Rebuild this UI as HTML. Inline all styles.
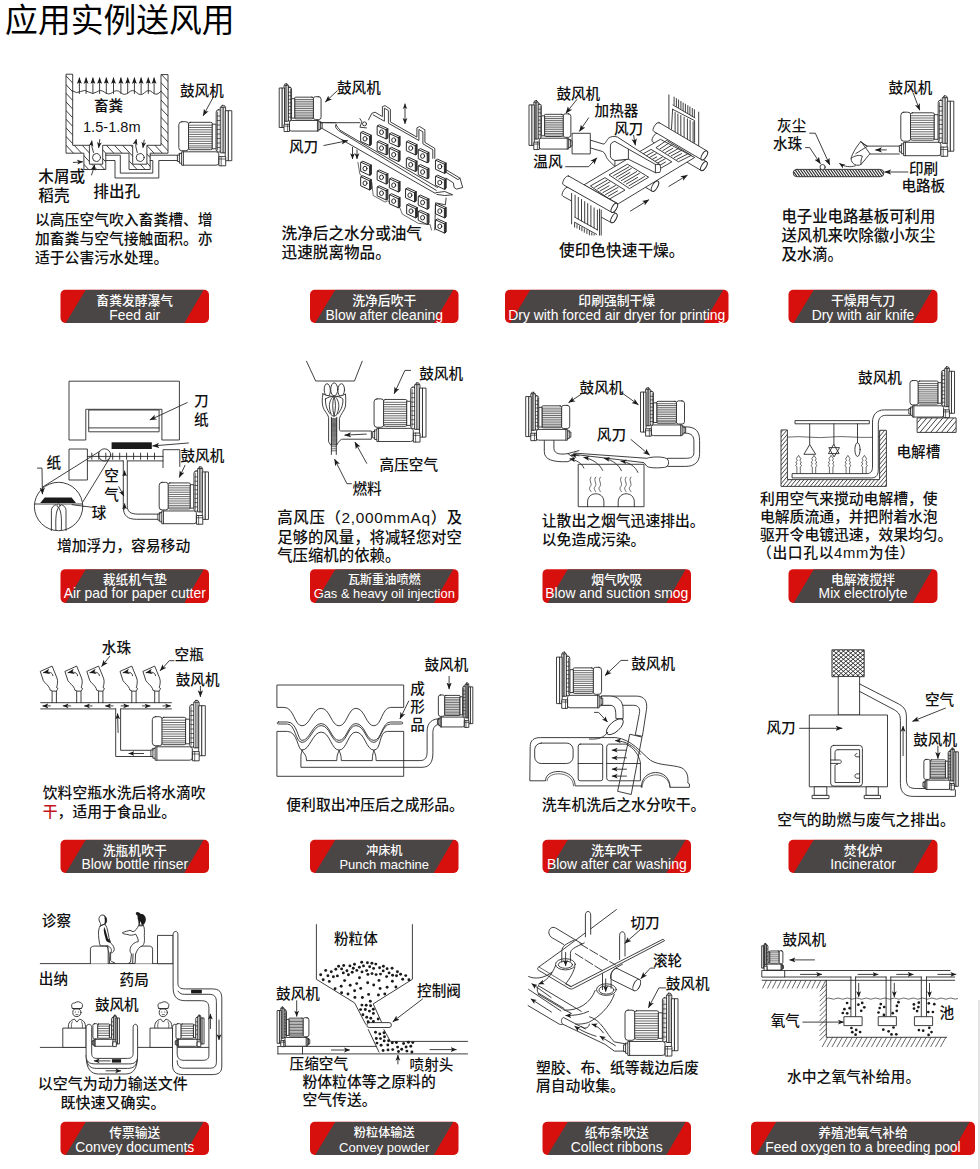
<!DOCTYPE html>
<html lang="zh-CN"><head><meta charset="utf-8"><title>应用实例送风用</title>
<style>
html,body{margin:0;padding:0;background:#fff}
body{width:980px;height:1169px;overflow:hidden;position:relative}
svg{position:absolute;left:0;top:0;display:block}
text{font-family:"Liberation Sans","Noto Sans CJK SC",sans-serif;fill:#111;font-weight:500}
.t{font-size:32.8px;fill:#000;font-weight:400}
.l{font-size:14.6px}
.c{font-size:14.8px}
.bz{font-size:12.6px;fill:#fff;text-anchor:middle;font-weight:500}
.be{font-size:13.9px;fill:#fff;text-anchor:middle;font-weight:400}
.d{fill:none;stroke:#2a2a2a;stroke-width:.9;stroke-linejoin:round;stroke-linecap:round}
.d path,.d rect,.d circle,.d line,.d polyline,.d polygon,.d ellipse{vector-effect:none}
#bl path,#bl rect,#bls path,#bls rect{vector-effect:non-scaling-stroke}
.f{fill:#fff}
.k{fill:#1a1a1a;stroke:none}
.h{stroke-width:.7}
</style></head><body>
<svg width="980" height="1169" viewBox="0 0 980 1169">
<defs>
<marker id="ah" viewBox="0 0 10 10" refX="9" refY="5" markerWidth="7" markerHeight="7" markerUnits="userSpaceOnUse" orient="auto"><path d="M0,1.2 L10,5 L0,8.8 L2.5,5 z" fill="#1a1a1a"/></marker>
<marker id="am" viewBox="0 0 10 10" refX="9" refY="5" markerWidth="6.3" markerHeight="5.4" markerUnits="userSpaceOnUse" orient="auto" preserveAspectRatio="none"><path d="M0,0.5 L10,5 L0,9.5 L2,5 z" fill="#1a1a1a"/></marker>
<marker id="as" viewBox="0 0 10 10" refX="9" refY="5" markerWidth="6" markerHeight="6" markerUnits="userSpaceOnUse" orient="auto"><path d="M0,1 L10,5 L0,9 L2.5,5 z" fill="#1a1a1a"/></marker>
<pattern id="hat" width="6.4" height="6.4" patternUnits="userSpaceOnUse" patternTransform="rotate(45)"><line x1="0" y1="0" x2="6.4" y2="0" stroke="#2a2a2a" stroke-width=".9"/></pattern>
<pattern id="hat2" width="2.6" height="2.6" patternUnits="userSpaceOnUse" patternTransform="rotate(52)"><line x1="0" y1="0" x2="2.6" y2="0" stroke="#222" stroke-width="1.05"/></pattern>
<pattern id="xh" width="4.4" height="4.4" patternUnits="userSpaceOnUse" patternTransform="rotate(45)"><path d="M0,0H4.4M0,0V4.4" stroke="#1a1a1a" stroke-width=".8" fill="none"/></pattern>
<g id="bl" class="d">
 <path class="f" d="M2.4,50 h-2 v6.5 h2 v1.7 h2.2 v2 h34.4 q2.8,0 2.8,-2.2 v-9.2 q0,-2 -2.8,-2 h-34.4 v1.6 h-2.2z"/>
 <path d="M2.4,50v6.5M4.6,48.4v9.8M6.4,46.8v13.4"/>
 <rect class="f" x="1.8" y="16.7" width="10" height="29" rx="3"/>
 <rect class="f" x="11.5" y="17.3" width="24" height="27.4" rx="1.8"/>
 <path class="h" d="M12,20.2h23M12,22.5h23M12,24.8h23M12,27.1h23M12,29.4h23M12,31.7h23M12,34h23M12,36.3h23M12,38.6h23M12,40.9h23M12,42.8h23"/>
 <rect class="f" x="35.5" y="19.2" width="3.7" height="24.6"/>
 <rect class="f" x="39.2" y="4.7" width="5" height="42.3" rx="2.2"/>
 <path class="h" d="M40.6,7v38M40.2,11h3.4M40.2,15.5h3.4M40.2,20h3.4M40.2,24.5h3.4M40.2,29h3.4M40.2,33.5h3.4M40.2,38h3.4M40.2,42.5h3.4"/>
 <rect class="f" x="44.2" y="0.4" width="3.8" height="4" rx="1.3"/>
 <rect class="f" x="43.6" y="2.2" width="5" height="45.6"/>
 <path class="h" d="M45.2,2.2v45.6M46.6,2.2v45.6"/>
 <rect class="f" x="48.6" y="5.7" width="3" height="50"/>
 <rect class="f" x="51.6" y="5.7" width="3.2" height="50"/>
 <rect class="f" x="42.3" y="51.6" width="6.4" height="9.2"/>
 <path class="h" d="M44.2,51.6v9.2M42.3,54h6.4"/>
</g>
<g id="bls" class="d">
 <path class="f" d="M2.4,50 h-2 v6.5 h2 v1.7 h2.2 v2 h34.4 q2.8,0 2.8,-2.2 v-9.2 q0,-2 -2.8,-2 h-34.4 v1.6 h-2.2z"/>
 <path d="M2.4,50v6.5M4.6,48.4v9.8M6.4,46.8v13.4"/>
 <rect class="f" x="1.8" y="16.7" width="10" height="29" rx="3"/>
 <rect class="f" x="11.5" y="17.3" width="24" height="27.4" rx="1.8"/>
 <path class="h" d="M12,21.5h23M12,26h23M12,30.5h23M12,35h23M12,39.5h23"/>
 <rect class="f" x="35.5" y="19.2" width="3.7" height="24.6"/>
 <rect class="f" x="39.2" y="4.7" width="5" height="42.3" rx="2.2"/>
 <path class="h" d="M40.2,13h3.4M40.2,21h3.4M40.2,29h3.4M40.2,37h3.4"/>
 <rect class="f" x="44.2" y="0.4" width="3.8" height="4" rx="1.3"/>
 <rect class="f" x="43.6" y="2.2" width="5" height="45.6"/>
 <path class="h" d="M46,2.2v45.6"/>
 <rect class="f" x="48.6" y="5.7" width="3" height="50"/>
 <rect class="f" x="51.6" y="5.7" width="3.2" height="50"/>
 <rect class="f" x="42.3" y="51.6" width="6.4" height="9.2"/>
 
</g>
<marker id="as0" viewBox="0 0 10 10" refX="1" refY="5" markerWidth="5.5" markerHeight="5.5" markerUnits="userSpaceOnUse" orient="auto"><path d="M10,1 L0,5 L10,9 L7.5,5 z" fill="#1a1a1a"/></marker>
<marker id="ah0" viewBox="0 0 10 10" refX="1" refY="5" markerWidth="7" markerHeight="7" markerUnits="userSpaceOnUse" orient="auto"><path d="M10,1.2 L0,5 L10,8.8 L7.5,5 z" fill="#1a1a1a"/></marker>
<g id="sq" class="d" style="stroke-width:1"><path class="f" d="M0,0 L1.8,-1.1 L10.4,2.8 L10.4,11.9 L8.6,13 L0,9.1z"/><path d="M0,0L8.6,3.9V13M8.6,3.9L10.4,2.8"/><path d="M9.5,3.4V12.4" style="stroke-width:1.5"/><ellipse cx="4" cy="6.3" rx="2" ry="2.3"/></g>
<pattern id="hat3" width="5" height="5" patternUnits="userSpaceOnUse" patternTransform="rotate(-45)"><line x1="0" y1="0" x2="5" y2="0" stroke="#2a2a2a" stroke-width=".8"/></pattern>
<pattern id="hat4" width="2.6" height="2.6" patternUnits="userSpaceOnUse" patternTransform="rotate(-45)"><line x1="0" y1="0" x2="2.6" y2="0" stroke="#2a2a2a" stroke-width=".75"/></pattern>
</defs>
<text x="5.1" y="31.6" class="t">应用实例送风用</text>
<g><clipPath id="c60_289"><rect x="60.5" y="289.8" width="148.5" height="33.1" rx="4.8"/></clipPath><rect x="60.5" y="289.8" width="148.5" height="33.1" rx="4.8" fill="#d7100e"/><polygon clip-path="url(#c60_289)" points="85.8,289.8 203.7,289.8 184.4,322.9 65.7,322.9" fill="#4a4646"/><text x="134.75" y="305.0" class="bz" style="font-size:12.8px">畜粪发酵瀑气</text><text x="134.75" y="319.8" class="be" style="font-size:13.9px">Feed air</text></g>
<g><clipPath id="c310_289"><rect x="310" y="289.8" width="148.5" height="33.1" rx="4.8"/></clipPath><rect x="310" y="289.8" width="148.5" height="33.1" rx="4.8" fill="#d7100e"/><polygon clip-path="url(#c310_289)" points="335.3,289.8 453.2,289.8 433.9,322.9 315.2,322.9" fill="#4a4646"/><text x="384.25" y="305.0" class="bz" style="font-size:12.8px">洗净后吹干</text><text x="384.25" y="319.8" class="be" style="font-size:13.9px">Blow after cleaning</text></g>
<g><clipPath id="c505_289"><rect x="505" y="289.8" width="223.5" height="33.1" rx="4.8"/></clipPath><rect x="505" y="289.8" width="223.5" height="33.1" rx="4.8" fill="#d7100e"/><polygon clip-path="url(#c505_289)" points="530.3,289.8 723.2,289.8 703.9,322.9 510.2,322.9" fill="#4a4646"/><text x="616.75" y="305.0" class="bz" style="font-size:12.8px">印刷强制干燥</text><text x="616.75" y="319.8" class="be" style="font-size:13.9px">Dry with forced air dryer for printing</text></g>
<g><clipPath id="c788_289"><rect x="788.5" y="289.8" width="149.0" height="33.1" rx="4.8"/></clipPath><rect x="788.5" y="289.8" width="149.0" height="33.1" rx="4.8" fill="#d7100e"/><polygon clip-path="url(#c788_289)" points="813.8,289.8 932.2,289.8 912.9,322.9 793.7,322.9" fill="#4a4646"/><text x="863.0" y="305.0" class="bz" style="font-size:12.8px">干燥用气刀</text><text x="863.0" y="319.8" class="be" style="font-size:13.9px">Dry with air knife</text></g>
<g><clipPath id="c60_569"><rect x="60.5" y="569.2" width="148.5" height="33.7" rx="4.8"/></clipPath><rect x="60.5" y="569.2" width="148.5" height="33.7" rx="4.8" fill="#d7100e"/><polygon clip-path="url(#c60_569)" points="85.8,569.2 203.7,569.2 184.4,602.9 65.7,602.9" fill="#4a4646"/><text x="134.75" y="583.6" class="bz" style="font-size:12.8px">裁纸机气垫</text><text x="134.75" y="598.1" class="be" style="font-size:13.9px">Air pad for paper cutter</text></g>
<g><clipPath id="c310_569"><rect x="310" y="569.2" width="148.5" height="33.7" rx="4.8"/></clipPath><rect x="310" y="569.2" width="148.5" height="33.7" rx="4.8" fill="#d7100e"/><polygon clip-path="url(#c310_569)" points="335.3,569.2 453.2,569.2 433.9,602.9 315.2,602.9" fill="#4a4646"/><text x="384.25" y="583.6" class="bz" style="font-size:12.2px">瓦斯重油喷燃</text><text x="384.25" y="598.1" class="be" style="font-size:12.9px">Gas &amp; heavy oil injection</text></g>
<g><clipPath id="c542_569"><rect x="542.5" y="569.2" width="148.5" height="33.7" rx="4.8"/></clipPath><rect x="542.5" y="569.2" width="148.5" height="33.7" rx="4.8" fill="#d7100e"/><polygon clip-path="url(#c542_569)" points="567.8,569.2 685.7,569.2 666.4,602.9 547.7,602.9" fill="#4a4646"/><text x="616.75" y="583.6" class="bz" style="font-size:12.8px">烟气吹吸</text><text x="616.75" y="598.1" class="be" style="font-size:13.9px">Blow and suction smog</text></g>
<g><clipPath id="c788_569"><rect x="788.5" y="569.2" width="149.0" height="33.7" rx="4.8"/></clipPath><rect x="788.5" y="569.2" width="149.0" height="33.7" rx="4.8" fill="#d7100e"/><polygon clip-path="url(#c788_569)" points="813.8,569.2 932.2,569.2 912.9,602.9 793.7,602.9" fill="#4a4646"/><text x="863.0" y="583.6" class="bz" style="font-size:12.8px">电解液搅拌</text><text x="863.0" y="598.1" class="be" style="font-size:13.9px">Mix electrolyte</text></g>
<g><clipPath id="c60_839"><rect x="60.5" y="839.8" width="148.5" height="33.1" rx="4.8"/></clipPath><rect x="60.5" y="839.8" width="148.5" height="33.1" rx="4.8" fill="#d7100e"/><polygon clip-path="url(#c60_839)" points="85.8,839.8 203.7,839.8 184.4,872.9 65.7,872.9" fill="#4a4646"/><text x="134.75" y="854.5" class="bz" style="font-size:12.8px">洗瓶机吹干</text><text x="134.75" y="868.8" class="be" style="font-size:13.9px">Blow bottle rinser</text></g>
<g><clipPath id="c310_839"><rect x="310" y="839.8" width="148.5" height="33.1" rx="4.8"/></clipPath><rect x="310" y="839.8" width="148.5" height="33.1" rx="4.8" fill="#d7100e"/><polygon clip-path="url(#c310_839)" points="335.3,839.8 453.2,839.8 433.9,872.9 315.2,872.9" fill="#4a4646"/><text x="384.25" y="854.5" class="bz" style="font-size:12.2px">冲床机</text><text x="384.25" y="868.8" class="be" style="font-size:13.0px">Punch machine</text></g>
<g><clipPath id="c542_839"><rect x="542.5" y="839.8" width="148.5" height="33.1" rx="4.8"/></clipPath><rect x="542.5" y="839.8" width="148.5" height="33.1" rx="4.8" fill="#d7100e"/><polygon clip-path="url(#c542_839)" points="567.8,839.8 685.7,839.8 666.4,872.9 547.7,872.9" fill="#4a4646"/><text x="616.75" y="854.5" class="bz" style="font-size:12.8px">洗车吹干</text><text x="616.75" y="868.8" class="be" style="font-size:13.9px">Blow after car washing</text></g>
<g><clipPath id="c788_839"><rect x="788.5" y="839.8" width="149.0" height="33.1" rx="4.8"/></clipPath><rect x="788.5" y="839.8" width="149.0" height="33.1" rx="4.8" fill="#d7100e"/><polygon clip-path="url(#c788_839)" points="813.8,839.8 932.2,839.8 912.9,872.9 793.7,872.9" fill="#4a4646"/><text x="863.0" y="854.5" class="bz" style="font-size:12.8px">焚化炉</text><text x="863.0" y="868.8" class="be" style="font-size:13.9px">Incinerator</text></g>
<g><clipPath id="c60_1121"><rect x="60.5" y="1121.8" width="148.5" height="33.1" rx="4.8"/></clipPath><rect x="60.5" y="1121.8" width="148.5" height="33.1" rx="4.8" fill="#d7100e"/><polygon clip-path="url(#c60_1121)" points="85.8,1121.8 203.7,1121.8 184.4,1154.9 65.7,1154.9" fill="#4a4646"/><text x="134.75" y="1137.0" class="bz" style="font-size:12.8px">传票输送</text><text x="134.75" y="1151.6" class="be" style="font-size:13.9px">Convey documents</text></g>
<g><clipPath id="c310_1121"><rect x="310" y="1121.8" width="148.5" height="33.1" rx="4.8"/></clipPath><rect x="310" y="1121.8" width="148.5" height="33.1" rx="4.8" fill="#d7100e"/><polygon clip-path="url(#c310_1121)" points="335.3,1121.8 453.2,1121.8 433.9,1154.9 315.2,1154.9" fill="#4a4646"/><text x="384.25" y="1137.0" class="bz" style="font-size:12.2px">粉粒体输送</text><text x="384.25" y="1151.6" class="be" style="font-size:13.0px">Convey powder</text></g>
<g><clipPath id="c542_1121"><rect x="542.5" y="1121.8" width="148.5" height="33.1" rx="4.8"/></clipPath><rect x="542.5" y="1121.8" width="148.5" height="33.1" rx="4.8" fill="#d7100e"/><polygon clip-path="url(#c542_1121)" points="567.8,1121.8 685.7,1121.8 666.4,1154.9 547.7,1154.9" fill="#4a4646"/><text x="616.75" y="1137.0" class="bz" style="font-size:12.8px">纸布条吹送</text><text x="616.75" y="1151.6" class="be" style="font-size:13.9px">Collect ribbons</text></g>
<g><clipPath id="c751_1121"><rect x="751" y="1121.8" width="224" height="33.1" rx="4.8"/></clipPath><rect x="751" y="1121.8" width="224" height="33.1" rx="4.8" fill="#d7100e"/><polygon clip-path="url(#c751_1121)" points="776.3,1121.8 969.7,1121.8 950.4,1154.9 756.2,1154.9" fill="#4a4646"/><text x="863.0" y="1137.0" class="bz" style="font-size:12.8px">养殖池氧气补给</text><text x="863.0" y="1151.6" class="be" style="font-size:13.9px">Feed oxygen to a breeding pool</text></g>
<!-- 01_feedair.svg -->
<g class="d">
 <clipPath id="ha1"><path d="M66,74.6V153.2H83.9V169.5H105.8V153.2H129V169.5H150.2V153.2H168V74.6H161V145.3H146.9V164.2H132.7V145.3H102.7V164.2H89.4V145.3H72.7V74.6Z"/></clipPath><path clip-path="url(#ha1)" d="M124.0,17.0L222.2,122.4M119.7,21.0L217.9,126.4M115.3,25.1L213.6,130.4M111.0,29.1L209.3,134.4M106.7,33.1L205.0,138.5M102.4,37.1L200.6,142.5M98.1,41.1L196.3,146.5M93.8,45.2L192.0,150.5M89.4,49.2L187.7,154.6M85.1,53.2L183.4,158.6M80.8,57.2L179.1,162.6M76.5,61.3L174.8,166.6M72.2,65.3L170.4,170.7M67.9,69.3L166.1,174.7M63.6,73.3L161.8,178.7M59.2,77.4L157.5,182.7M54.9,81.4L153.2,186.8M50.6,85.4L148.9,190.8M46.3,89.4L144.6,194.8M42.0,93.5L140.2,198.8M37.7,97.5L135.9,202.9M33.4,101.5L131.6,206.9M29.0,105.5L127.3,210.9M24.7,109.6L123.0,214.9M20.4,113.6L118.7,218.9M16.1,117.6L114.3,223.0" style="stroke:#2a2a2a;stroke-width:0.9;fill:none"/><path d="M66,74.6V153.2H83.9V169.5H105.8V153.2H129V169.5H150.2V153.2H168V74.6H161V145.3H146.9V164.2H132.7V145.3H102.7V164.2H89.4V145.3H72.7V74.6Z"/>
 <path d="M72.7,91 q4,3 8,0.5 t8,0.5 t8,0 t8,0.3 t8,0 t8,0.3 t8,-0.2 t8,0.2 t8,0 t8,0 t8.3,-1.5"/>
 <path d="M79.4,93.5V78" marker-end="url(#am)"/><path d="M86.1,93.5V78" marker-end="url(#am)"/><path d="M92.9,93.5V78" marker-end="url(#am)"/><path d="M99.6,93.5V78" marker-end="url(#am)"/><path d="M106.3,93.5V78" marker-end="url(#am)"/><path d="M113.5,93.5V78" marker-end="url(#am)"/><path d="M120.9,93.5V78" marker-end="url(#am)"/><path d="M127.7,93.5V78" marker-end="url(#am)"/><path d="M134.4,93.5V78" marker-end="url(#am)"/><path d="M141.1,93.5V78" marker-end="url(#am)"/><path d="M148.3,93.5V78" marker-end="url(#am)"/><path d="M154.1,93.5V78" marker-end="url(#am)"/>
 <circle class="f" cx="96.5" cy="157.5" r="4"/><circle class="f" cx="140.2" cy="157.5" r="4"/>
 <path d="M93.5,152.5 q-2.5,-6 -1.7,-11.5" marker-end="url(#as)"/><path d="M99.8,139.5 L98.7,147.5" marker-end="url(#as)"/>
 <path d="M137.2,152.5 q-2.5,-6 -1,-13" marker-end="url(#as)"/><path d="M144.2,140 L143,147.5" marker-end="url(#as)"/>
 <path d="M150.2,155.2H177.4M150.2,160.5H152.8V173.1H120.3V155.2H105.8M105.8,160.5H115V178H158.8V160.5H177.4"/>
 <path d="M73.3,162.5L82.5,161.8" marker-end="url(#as)"/><path d="M91.6,175L94.7,165" marker-end="url(#as)"/>
 <path d="M213.6,96.5L203.3,115.5" marker-end="url(#ah)"/>
 <use href="#bl" x="177" y="105"/>
</g>
<text class="l" x="180" y="95.5">鼓风机</text>
<text class="l" x="94" y="111">畜粪</text>
<text class="l" x="83" y="131.5">1.5-1.8m</text>
<text class="l" x="38.3" y="182" style="font-size:15.6px">木屑或</text>
<text class="l" x="38.3" y="201" style="font-size:15.6px">稻壳</text>
<text class="l" x="93.3" y="196.5" style="font-size:15.6px">排出孔</text>
<text class="c" x="35" y="224.7">以高压空气吹入畜粪槽、增</text>
<text class="c" x="35" y="243.7">加畜粪与空气接触面积。亦</text>
<text class="c" x="35" y="262.7">适于公害污水处理。</text>

<!-- 02_blowclean.svg -->
<g class="d">
<path d="M368.5,119.9 L371.8,113.3 L375.1,112.2 L382.4,116.6 L382.4,106.6 L385.1,105.6 L390.4,109.3 L390.4,121.9 L416.9,137.1 L416.9,127.9 L419.6,126.5 L424.9,129.8 L424.9,142.4 L434.8,148.4 L434.8,158.4"/><path d="M373.2,114.9 L384.4,121.2 L384.4,108.2 L388.4,110.6 L388.4,123.2 L418.9,140.5 L418.9,129.4 L422.9,131.8 L422.9,143.8 L432.8,149.7 L432.8,158.4"/><path d="M444.8,169.0 L460.0,178.2 L462.7,187.5 L456.7,189.1 L454.1,187.5 L453.4,182.9 L446.1,178.2"/><path d="M446.1,172.3 L458.0,179.6 L460.0,178.2"/><path class="h" d="M357.9,162.3 L359.9,174.3 L371.8,182.2 L373.2,195.5 L385.1,202.1 L387.7,200.8 L399.7,207.4 L402.3,214.1 L418.2,223.3 L430.2,224.7 L431.5,230.0"/>
<path d="M359.9,118.6 L361.9,121.9 L359.9,127.2 L366.5,127.9"/><circle cx="364.5" cy="123.9" r="2"/><path d="M434.8,192.8 L444.8,191.5 L452.7,194.8 L444.8,195.5 L436.8,194.4"/><path d="M446.1,198.1 L445.4,204.8 L435.5,202.8 L434.8,230.0"/><use href="#sq" x="361" y="132.5"/><use href="#sq" x="377.5" y="125.9"/><use href="#sq" x="377.5" y="141.8"/><use href="#sq" x="389.7" y="133.8"/><use href="#sq" x="389.7" y="148.4"/><use href="#sq" x="406.7" y="141.8"/><use href="#sq" x="406.7" y="158.4"/><use href="#sq" x="418.6" y="149.7"/><use href="#sq" x="418.6" y="165.7"/><use href="#sq" x="435.8" y="160.3"/><use href="#sq" x="435.8" y="176.3"/><use href="#sq" x="361" y="162.3"/><use href="#sq" x="361" y="176.9"/><use href="#sq" x="377.5" y="171"/><use href="#sq" x="377.5" y="186.9"/><use href="#sq" x="389.7" y="178.9"/><use href="#sq" x="389.7" y="194.8"/><use href="#sq" x="405.9" y="188.9"/><use href="#sq" x="407" y="204.8"/><use href="#sq" x="418.6" y="196.2"/><use href="#sq" x="418.6" y="211.4"/><use href="#sq" x="435.8" y="204.8"/><use href="#sq" x="435.8" y="220"/>
 <path d="M321,122.7H359.8"/>
 <path class="f" d="M321,127.8L435,193.2 L437.5,187.5 L340,130.2 Q337.5,127 336,124.8 L321,122.7Z" stroke="none"/>
 <path d="M321,127.8L435,193.2"/>
 <path d="M336,124.6 Q337.5,127.5 340,130.2 L437.5,187.5 M336,124.6 Q334,127 338.5,130.6 L436.3,190.4"/>
 <path d="M321,122.7H336"/>
 <path d="M337.3,90.7L325.6,101.7" marker-end="url(#ah)"/>
 <path d="M323.9,145.5L347.5,140.7" marker-end="url(#ah)"/>
 <path d="M352.5,147.4V158.6" marker-end="url(#as)"/><path d="M357,150V158.6" marker-end="url(#as)"/>
 <path d="M405,104V123.5" marker-end="url(#as)" marker-start="url(#as0)"/>
 <use href="#bl" transform="translate(322.5,83.5) scale(-.79,.79)"/>
</g>
<text class="l" x="337" y="93">鼓风机</text>
<text class="l" x="289" y="152">风刀</text>
<text class="c" x="281.6" y="239" style="font-size:15.6px">洗净后之水分或油气</text>
<text class="c" x="281.6" y="257.5" style="font-size:15.6px">迅速脱离物品。</text>

<!-- 03_print.svg -->
<g class="d">
<path d="M668.9,94.9V128.4M698.7,112.1V146.4"/><path d="M674.1,97.1V104.8"/><path d="M676.4,98.6V106.3"/><path d="M678.6,99.9V107.6"/><path d="M680.9,101.4V109.1"/><path d="M683.1,102.9V110.6"/><path d="M685.4,104.1V111.9"/><path d="M687.8,105.6V113.4"/><path d="M689.9,106.9V114.6"/><path d="M692.3,108.4V116.1"/><path d="M694.4,109.7V117.4"/><path d="M673.0,105.0L694.9,117.9M672.6,109.3L694.6,120.6V142.3M672.6,109.3L671.5,129.2"/><path d="M675.1,112.5V146.8"/><path d="M677.9,114.0V146.8"/><path d="M680.8,115.5V146.8"/><path d="M684.1,117.2V146.8"/><path d="M687.4,118.9V146.8"/><path d="M690.1,120.2V146.8"/><path d="M693.1,121.9V146.8"/><path class="f" d="M658.0,133.1 L706.5,161.6 A2.3,5.1 30.5 0 1 701.2,170.5 L652.8,142.0 A2.3,5.1 30.5 0 1 658.0,133.1Z"/><ellipse class="f" cx="703.9" cy="166.1" rx="2.3" ry="5.1" transform="rotate(30.5 703.9 166.1)"/><path class="f" d="M642.9,172.4 L657.9,181.2 A2.6,5.8 30.4 0 1 652.1,191.2 L637.1,182.4 A2.6,5.8 30.4 0 1 642.9,172.4Z"/><ellipse class="f" cx="655.0" cy="186.2" rx="2.6" ry="5.8" transform="rotate(30.4 655.0 186.2)"/><path class="f" d="M584.3,184.7L660.4,139.3L694.6,157.5L618.6,203.6Z"/><path d="M590.7,186.2L609.4,199.1L625.0,190.1L605.3,177.9Z"/><path d="M594.8,187.3L607.0,180.2"/><path d="M597.6,189.0L609.8,181.9"/><path d="M600.1,190.9L609.1,185.8"/><path d="M602.9,192.6L615.4,185.6"/><path d="M605.5,194.6L618.1,187.3"/><path d="M608.3,196.3L617.5,190.9"/><path d="M609.4,175.1L629.5,188.6L648.6,177.2L627.8,164.4Z"/><path d="M613.6,175.7L628.9,166.9"/><path d="M616.2,177.4L631.4,168.4"/><path d="M618.8,179.1L629.9,172.5"/><path d="M621.4,180.6L636.6,171.6"/><path d="M623.9,182.4L639.4,173.4"/><path d="M626.3,184.1L637.6,177.4"/><path d="M628.9,185.8L644.5,176.6"/><path d="M640.0,156.0L660.4,168.4L671.9,161.8L651.4,149.6Z"/><path d="M644.1,157.1L653.3,151.9"/><path d="M646.9,159.0L656.3,153.6"/><path d="M649.9,160.7L656.7,156.9"/><path d="M652.9,162.4L662.3,157.1"/><path d="M655.6,164.1L665.1,158.8"/><path d="M658.6,166.1L665.5,162.0"/><path d="M656.3,147.9L678.4,161.8L691.4,155.4L667.0,140.6Z"/><path d="M660.1,148.9L669.1,142.9"/><path d="M662.9,150.6L672.1,144.9"/><path d="M665.7,152.4L672.8,148.3"/><path d="M668.5,154.1L678.4,148.5"/><path d="M671.3,155.8L681.4,150.4"/><path d="M674.1,157.7L681.6,153.6"/><path d="M676.9,159.4L687.4,154.1"/><path class="f" d="M659.1,122.6 L706.9,150.9 A2.3,5.1 30.6 0 1 701.7,159.8 L653.9,131.5 A2.3,5.1 30.6 0 1 659.1,122.6Z"/><ellipse class="f" cx="704.3" cy="155.4" rx="2.3" ry="5.1" transform="rotate(30.6 704.3 155.4)"/><path class="f" d="M567.9,187.3 L616.3,213.6 A2.3,5.1 28.6 0 1 611.4,222.7 L563.0,196.3 A2.3,5.1 28.6 0 1 567.9,187.3Z"/><ellipse class="f" cx="613.9" cy="218.1" rx="2.3" ry="5.1" transform="rotate(28.6 613.9 218.1)"/><path class="f" d="M571.6,190.7L600.4,206.1L601.2,206.1L601.2,235.1L571.6,235.1Z" stroke="none"/><path d="M571.6,193.3V223.9M599.5,209.1V235.1M601.2,210.0V235.1"/><path d="M575.1,195.2V217.3"/><path d="M578.3,197.4V219.2"/><path d="M581.5,199.5V220.9"/><path d="M584.7,201.6V222.9"/><path d="M587.7,203.6V224.4"/><path d="M590.9,205.7V226.3"/><path d="M594.1,207.9V228.0"/><path d="M597.4,210.0V229.9"/><path d="M575.0,217.3L597.4,229.9M574.6,227.1V222.2L596.6,234.4"/><path d="M577.0,224.6V228.0"/><path d="M579.6,226.1V229.5"/><path d="M581.9,227.4V230.8"/><path d="M584.3,228.9V232.3"/><path d="M586.9,230.1V233.6"/><path d="M589.4,231.4V234.9"/><path d="M591.8,232.9V235.1"/><path d="M594.1,234.2V235.1"/><path class="f" d="M568.6,176.0 L616.8,203.4 A2.3,5.1 29.6 0 1 611.7,212.3 L563.5,184.9 A2.3,5.1 29.6 0 1 568.6,176.0Z"/><ellipse class="f" cx="614.3" cy="207.9" rx="2.3" ry="5.1" transform="rotate(29.6 614.3 207.9)"/><path class="f" d="M590.3,140.1L603.1,144.0C605.7,144.4 606.8,139.3 608.9,138.0C611.1,136.3 614.3,135.9 617.5,137.1L659.7,164.4C661.0,167.1 661.0,170.4 659.7,172.5L655.4,172.7L628.4,159.2L614.9,160.5L614.9,166.5L607.9,159.6C605.7,157.5 605.7,152.6 602.5,151.5L590.3,147.9Z"/><path class="f" d="M610.4,145.7C610.4,143.1 612.6,141.9 614.9,141.4L628.4,149.1L628.4,159.2L614.9,160.5C612.1,159.6 610.4,158.1 610.4,156.0Z"/><path d="M628.4,149.1L655.4,164.4L655.4,172.7M655.4,164.4L659.7,164.4"/><rect class="f" x="572.5" y="133.3" width="17.8" height="20.6"/><path d="M576.8,99.6L566.1,112.9" marker-end="url(#ah)"/><path d="M588.6,117.9L579.6,131.1" marker-end="url(#ah)"/><path d="M633.6,135.4L635.3,144.9" marker-end="url(#ah)"/><path d="M565.6,166.7L588.6,166.7L596.7,158.1" marker-end="url(#ah)"/><path d="M630.4,211.1L648.6,199.9" marker-end="url(#ah)"/><path d="M668.9,186.4L687.1,175.3" marker-end="url(#ah)"/><use href="#bl" transform="translate(572.3,100.3) scale(-.79,.81)"/>
</g>
<text class="l" x="556.4" y="99.2">鼓风机</text><text class="l" x="594.6" y="116.1">加热器</text><text class="l" x="613.9" y="133.7">风刀</text><text class="l" x="533.3" y="166.7">温风</text><text class="c" x="559" y="256" style="font-size:15.7px">使印色快速干燥。</text>

<!-- 04_knife.svg -->
<g class="d">
<clipPath id="hb1"><path d="M796.9,169.4H880.2A3.6,3.6 0 0 1 880.2,176.7H796.9A3.6,3.6 0 0 1 796.9,169.4Z"/></clipPath><path clip-path="url(#hb1)" d="M851.9,105.8L906.3,183.6M850.0,107.1L904.5,184.9M848.2,108.4L902.6,186.1M846.3,109.7L900.8,187.4M844.5,111.0L898.9,188.7M842.6,112.2L897.1,190.0M840.8,113.5L895.3,191.3M839.0,114.8L893.4,192.6M837.1,116.1L891.6,193.9M835.3,117.4L889.7,195.2M833.4,118.7L887.9,196.5M831.6,120.0L886.0,197.8M829.7,121.3L884.2,199.0M827.9,122.6L882.3,200.3M826.1,123.9L880.5,201.6M824.2,125.2L878.7,202.9M822.4,126.4L876.8,204.2M820.5,127.7L875.0,205.5M818.7,129.0L873.1,206.8M816.8,130.3L871.3,208.1M815.0,131.6L869.4,209.4M813.2,132.9L867.6,210.7M811.3,134.2L865.8,212.0M809.5,135.5L863.9,213.2M807.6,136.8L862.1,214.5M805.8,138.1L860.2,215.8M803.9,139.3L858.4,217.1M802.1,140.6L856.5,218.4M800.3,141.9L854.7,219.7M798.4,143.2L852.9,221.0M796.6,144.5L851.0,222.3M794.7,145.8L849.2,223.6M792.9,147.1L847.3,224.9M791.0,148.4L845.5,226.1M789.2,149.7L843.6,227.4M787.3,151.0L841.8,228.7M785.5,152.3L840.0,230.0M783.7,153.5L838.1,231.3M781.8,154.8L836.3,232.6M780.0,156.1L834.4,233.9M778.1,157.4L832.6,235.2M776.3,158.7L830.7,236.5M774.4,160.0L828.9,237.8M772.6,161.3L827.1,239.1" style="stroke:#222;stroke-width:1.05;fill:none"/><path d="M796.9,169.4H880.2A3.6,3.6 0 0 1 880.2,176.7H796.9A3.6,3.6 0 0 1 796.9,169.4Z"/><circle class="f" cx="822.6" cy="167.1" r="2.6"/><path stroke="#fff" stroke-width="0" d="M793.2,172.9L883.9,172.9"/><path d="M899.3,146.1L867.1,146.1L860.7,141.8M899.3,154.0L869.7,154.0"/><path class="f" d="M860.7,141.8C857.5,145.0 852.1,153.6 851.1,158.3C851.1,164.3 857.5,166.9 861.1,164.3C865.0,160.0 868.2,155.7 869.7,154.0Z"/><path d="M860.7,141.8C862.9,143.9 865.4,145.0 867.1,146.1M851.1,158.3C854.3,155.7 859.0,154.6 862.4,156.1C860.7,160.0 860.7,162.6 861.1,164.3M855.8,153.6L867.1,146.5"/><path d="M886.4,149.9L875.7,149.9" marker-end="url(#ah)"/><path d="M855.4,165.8C850.0,167.5 844.6,166.9 839.7,163.6" marker-end="url(#as)"/><path d="M913.2,93.1L919.6,109.9" marker-end="url(#ah)"/><path d="M809.7,133.2L815.3,133.2L829.6,164.5" marker-end="url(#ah)"/><path d="M805.6,147.6L809.7,147.6L820.2,163.4" marker-end="url(#ah)"/><path d="M907.9,172.0L884.9,172.0" marker-end="url(#ah)"/><use href="#bl" x="899" y="95.5"/>
</g>
<text class="l" x="888.6" y="93.1">鼓风机</text><text class="l" x="777.1" y="131.3">灰尘</text><text class="l" x="772.9" y="148.9">水珠</text><text class="l" x="908.9" y="173.9">印刷</text><text class="l" x="901.4" y="191.1">电路板</text><text class="c" x="781.4" y="221.7" style="font-size:15.4px">电子业电路基板可利用</text><text class="c" x="781.4" y="240.7" style="font-size:15.4px">送风机来吹除徽小灰尘</text>
<text class="c" x="781.4" y="259.7" style="font-size:15.4px">及水滴。</text>

<!-- 05_cutter.svg -->
<g class="d">
<path class="f" d="M69.4,381.2H179.4V440.0H161.9V409.3H85.8V440.0H69.4Z"/><rect class="f" x="89.1" y="410.0" width="70.0" height="21.8"/><path d="M89.1,427.9H159.2"/><rect class="k" x="111.6" y="442.3" width="40.2" height="6.7"/><rect class="f" x="69.4" y="449.0" width="18.0" height="31.0"/><path d="M163.0,467.7V449.7H179.8V466.5"/><path d="M87.3,456.4H163.0M87.3,460.9H123.3M127.3,460.9H163.0"/><path d="M91.8,453.1V459.3"/><path d="M98.8,453.1V459.3"/><path d="M105.8,453.1V459.3"/><path d="M112.7,453.1V459.3"/><path d="M119.7,453.1V459.3"/><path d="M126.6,453.1V459.3"/><path d="M133.6,453.1V459.3"/><path d="M140.6,453.1V459.3"/><path d="M147.5,453.1V459.3"/><path d="M154.5,453.1V459.3"/><path d="M99.7,451.3L42.4,487.2M109.3,458.7L81.1,504.7"/><circle cx="104.6" cy="454.9" r="6.1"/><circle class="f" cx="58.6" cy="506.5" r="24.2"/><path d="M34.8,504.0H82.4"/><path class="k" d="M40.2,502.9L44.7,497.5L71.6,497.5L76.1,502.9Z"/><path d="M51.4,530.5V510.3C51.4,507.4 53.7,505.4 55.9,504.7M66.0,530.5V510.3C66.0,507.4 63.8,505.4 61.5,504.7M55.9,529.8C55.5,518.2 55.9,511.4 58.6,507.4C61.3,511.4 61.8,518.2 61.3,529.8"/><circle class="f" cx="58.6" cy="505.6" r="1.6"/><path d="M72.1,504.7L93.0,507.4"/><path d="M123.3,460.9V506.9C123.3,515.9 127.8,519.3 136.7,519.3H160.3M127.3,460.9V505.8C127.3,511.4 130.0,514.1 137.9,514.1H160.3"/><path d="M124.6,475.5V471.0" marker-end="url(#as)"/><path d="M118.8,486.7L123.7,495.7" marker-end="url(#as)"/><path d="M124.6,509.2V503.8" marker-end="url(#as)"/><path d="M187.2,402.6L150.2,419.8" marker-end="url(#ah)"/><path d="M188.4,443.0L152.9,445.9" marker-end="url(#ah)"/><path d="M185.0,465.4L179.4,477.1" marker-end="url(#ah)"/><path d="M37.5,468.1L42.0,468.1L42.0,468.8L42.4,493.9" marker-end="url(#ah)"/><use href="#bl" transform="translate(157.5,466.5) scale(.93,.95)"/>
</g>
<text class="l" x="194.0" y="406.4">刀</text><text class="l" x="194.0" y="425.4">纸</text><text class="l" x="180.5" y="460.9">鼓风机</text><text class="l" x="46.5" y="468.1">纸</text><text class="l" x="104.2" y="480.5">空</text><text class="l" x="104.2" y="499.5">气</text><text class="l" x="91.8" y="518.2">球</text><text class="c" x="57" y="551">增加浮力，容易移动</text>

<!-- 06_gas.svg -->
<g class="d">
<path d="M306.5,361.2L315.7,381.0L354.5,381.0L362.2,361.2"/><ellipse class="f" cx="327.3" cy="390.0" rx="3.1" ry="6.3" transform="rotate(-3 327.3 390.0)"/><ellipse class="f" cx="341.2" cy="390.0" rx="3.3" ry="6.3" transform="rotate(3 341.2 390.0)"/><ellipse class="f" cx="334.2" cy="389.4" rx="3.5" ry="6.5"/><path class="f" d="M322.9,393.9C322.0,399.0 322.0,403.5 322.9,406.7C324.1,411.2 327.8,413.7 328.6,417.3L328.6,441.8L330.6,444.9L336.7,444.9C338.0,442.9 338.8,441.8 339.6,441.0C340.4,439.8 341.2,439.2 342.4,439.2L371.4,439.2L371.4,431.0L341.2,431.0C339.8,431.0 339.4,430.4 339.4,429.2L339.4,418.4C340.4,414.3 344.9,410.4 345.5,406.1C345.9,402.0 345.9,398.0 345.5,393.9C341.2,397.3 329.0,397.3 322.9,393.9Z"/><path class="f" d="M325.5,399.0C324.9,408.2 330.0,415.3 333.9,416.3C338.0,415.3 343.5,408.2 342.9,399.0C339.2,395.3 330.0,395.3 325.5,399.0Z"/><path d="M334.1,415.7C332.2,409.2 332.2,402.0 334.1,396.5C335.9,402.0 335.9,409.2 334.1,415.7M331.0,413.7C328.2,407.1 329.0,401.0 332.7,396.9M337.1,413.7C340.0,407.1 339.2,401.0 335.5,396.9"/><path d="M331.4,417.3V444.9M336.7,417.3V444.9M331.4,444.9V454.5M336.3,444.9V454.5"/><path class="h" d="M331.4,418.4H336.7"/><path class="h" d="M331.4,419.4H336.7"/><path class="h" d="M331.4,420.4H336.7"/><path class="h" d="M331.4,421.4H336.7"/><path class="h" d="M331.4,422.4H336.7"/><path class="h" d="M331.4,423.5H336.7"/><path class="h" d="M331.4,424.5H336.7"/><path class="h" d="M331.4,425.5H336.7"/><path class="h" d="M331.4,426.5H336.7"/><path class="h" d="M331.4,427.6H336.7"/><path class="h" d="M331.4,428.6H336.7"/><path class="h" d="M331.4,429.6H336.7"/><path class="h" d="M331.4,430.6H336.7"/><path class="h" d="M331.4,431.6H336.7"/><path class="h" d="M331.4,432.7H336.7"/><path class="h" d="M331.4,433.7H336.7"/><path class="h" d="M331.4,434.7H336.7"/><path class="h" d="M331.4,435.7H336.7"/><path class="h" d="M331.4,436.7H336.7"/><path class="h" d="M331.4,437.8H336.7"/><path class="h" d="M331.4,438.8H336.7"/><path class="h" d="M331.4,439.8H336.7"/><path class="h" d="M331.4,440.8H336.7"/><path class="h" d="M331.4,441.8H336.7"/><path class="h" d="M331.4,442.9H336.7"/><path class="h" d="M331.4,443.9H336.7"/><path class="h" d="M331.4,446.7H336.3"/><path class="h" d="M331.4,448.8H336.3"/><path class="h" d="M331.4,450.8H336.3"/><path d="M366.3,434.1L344.9,435.1" marker-end="url(#ah)"/><path d="M410.6,370.4L404.9,370.4L394.3,393.3" marker-end="url(#ah)"/><path d="M366.7,463.3L355.1,442.4" marker-end="url(#ah)"/><path d="M351.4,483.7L346.9,483.7L334.7,459.4" marker-end="url(#ah)"/><use href="#bl" transform="translate(372.3,382.5) scale(.98,.98)"/>
</g>
<text class="l" x="419.2" y="379.4">鼓风机</text><text class="l" x="379.6" y="470.0">高压空气</text><text class="l" x="352.4" y="494.1">燃料</text><text class="c" x="277.2" y="523.2" style="font-size:15.4px" textLength="185" lengthAdjust="spacing">高风压（2,000mmAq）及</text>
<text class="c" x="277.2" y="542.6" style="font-size:15.4px">足够的风量，将减轻您对空</text>
<text class="c" x="277.2" y="560.6" style="font-size:15.4px">气压缩机的依赖。</text>

<!-- 07_smog.svg -->
<g class="d">
<rect class="f" x="578.6" y="464.3" width="65.4" height="42.4"/><path d="M587.6,506.7V501.8C587.6,491.1 603.9,491.1 603.9,501.8V506.7M618.2,506.7V501.8C618.2,491.1 634.3,491.1 634.3,501.8V506.7"/><path class="h" d="M591.0,477.1C588.0,480.4 593.1,483.6 590.1,486.8C588.4,488.9 590.6,490.4 591.0,491.7"/><path class="h" d="M595.7,477.1C592.7,480.4 597.9,483.6 594.9,486.8C593.1,488.9 595.3,490.4 595.7,491.7"/><path class="h" d="M600.4,477.1C597.4,480.4 602.6,483.6 599.6,486.8C597.9,488.9 600.0,490.4 600.4,491.7"/><path class="h" d="M621.4,477.1C618.4,480.4 623.6,483.6 620.6,486.8C618.9,488.9 621.0,490.4 621.4,491.7"/><path class="h" d="M626.1,477.1C623.1,480.4 628.3,483.6 625.3,486.8C623.6,488.9 625.7,490.4 626.1,491.7"/><path class="h" d="M630.9,477.1C627.9,480.4 633.0,483.6 630.0,486.8C628.3,488.9 630.4,490.4 630.9,491.7"/><path class="f" d="M544.3,439.6V451.4C544.3,460.0 552.9,462.1 567.9,461.7L574.3,458.3L567.9,453.6C561.4,454.6 553.9,454.6 553.9,448.2V439.6Z"/><path d="M567.9,453.6L579.0,450.6"/><path class="f" d="M685.7,426.8C696.4,426.8 699.6,432.1 699.6,440.7V453.6C699.6,462.1 694.3,466.4 685.7,466.4H667.5V458.3H685.7C691.1,458.3 693.9,456.8 693.9,452.5V441.8C693.9,436.4 692.1,433.2 685.7,433.2Z"/><path class="f" d="M574.3,453.1L647.1,458.3C649.3,456.8 666.4,455.7 668.1,460.0C669.6,464.3 667.5,467.5 663.2,467.5C657.9,468.1 649.3,468.1 647.1,466.4L643.9,462.6L574.3,454.4Z"/><path d="M583.9,468.1C581.8,463.2 576.4,460.0 570.0,458.9" marker-end="url(#as)"/><path d="M602.6,470.3C600.0,464.3 592.5,458.9 583.9,457.4" marker-end="url(#as)"/><path d="M621.4,470.7C619.3,465.4 612.9,460.0 604.3,458.3" marker-end="url(#as)"/><path d="M637.9,472.4C635.4,466.4 628.9,462.1 621.0,461.1" marker-end="url(#as)"/><path d="M579.0,455.7L571.3,455.1" marker-end="url(#as)"/><path d="M580.7,394.6L568.9,402.4" marker-end="url(#ah)"/><path d="M621.4,392.5L638.1,404.5" marker-end="url(#ah)"/><path d="M631.1,439.6L649.3,454.9" marker-end="url(#ah)"/><use href="#bl" transform="translate(571.2,392) scale(-.83,.8)"/><use href="#bl" transform="translate(686,387.5) scale(-.83,.8)"/>
</g>
<text class="l" x="579.6" y="392.7">鼓风机</text><text class="l" x="596.8" y="440.3">风刀</text><text class="c" x="541.8" y="526">让散出之烟气迅速排出。</text>
<text class="c" x="541.8" y="545">以免造成污染。</text>

<!-- 08_electro.svg -->
<g class="d">
<clipPath id="hc1"><path d="M917.5,417.9H956.1V432.4H917.5Z"/></clipPath><path clip-path="url(#hc1)" d="M903.4,426.7L932.5,392.0M906.5,429.3L935.6,394.6M909.7,431.9L938.8,397.3M912.8,434.6L941.9,399.9M916.0,437.2L945.0,402.5M919.1,439.8L948.2,405.2M922.2,442.5L951.3,407.8M925.4,445.1L954.5,410.5M928.5,447.7L957.6,413.1M931.7,450.4L960.7,415.7M934.8,453.0L963.9,418.4M938.0,455.6L967.0,421.0" style="stroke:#2a2a2a;stroke-width:0.9;fill:none"/><path d="M917.5,417.9H956.1V432.4H917.5Z"/><clipPath id="hd2"><path d="M781.0,430.3V486.4H886.4V430.3H879.6V479.6H787.4V430.3Z"/></clipPath><path clip-path="url(#hd2)" d="M745.8,465.1L825.1,370.6M748.1,467.1L827.4,372.5M750.4,469.0L829.7,374.4M752.7,470.9L832.0,376.4M755.0,472.9L834.3,378.3M757.3,474.8L836.6,380.2M759.6,476.7L838.9,382.1M761.9,478.6L841.2,384.1M764.2,480.6L843.5,386.0M766.5,482.5L845.8,387.9M768.8,484.4L848.1,389.9M771.1,486.4L850.4,391.8M773.4,488.3L852.7,393.7M775.7,490.2L855.0,395.6M778.0,492.1L857.3,397.6M780.3,494.1L859.6,399.5M782.5,496.0L861.9,401.4M784.8,497.9L864.2,403.4M787.1,499.9L866.5,405.3M789.4,501.8L868.8,407.2M791.7,503.7L871.1,409.1M794.0,505.6L873.4,411.1M796.3,507.6L875.7,413.0M798.6,509.5L878.0,414.9M800.9,511.4L880.3,416.9M803.2,513.4L882.6,418.8M805.5,515.3L884.9,420.7M807.8,517.2L887.2,422.6M810.1,519.1L889.5,424.6M812.4,521.1L891.8,426.5M814.7,523.0L894.1,428.4M817.0,524.9L896.4,430.4M819.3,526.9L898.7,432.3M821.6,528.8L901.0,434.2M823.9,530.7L903.3,436.1M826.2,532.6L905.6,438.1M828.5,534.6L907.9,440.0M830.8,536.5L910.2,441.9M833.1,538.4L912.5,443.9M835.4,540.3L914.8,445.8M837.7,542.3L917.1,447.7M840.0,544.2L919.4,449.6" style="stroke:#2a2a2a;stroke-width:0.85;fill:none"/><path d="M781.0,430.3V486.4H886.4V430.3H879.6V479.6H787.4V430.3Z"/><path class="h" d="M787.4,437.1C802.9,435.4 815.7,438.9 830.7,437.1C845.7,435.4 860.7,438.9 879.6,436.7"/><rect class="f" x="795.4" y="420.6" width="73.9" height="3.2"/><path d="M809.7,423.9V444.6L803.9,454.3H815.7L809.7,444.6M833.9,423.9V444.6M857.5,423.9V442.7"/><path d="M833.9,444.6L839.1,453.6L828.8,453.6Z"/><path d="M833.9,456.6L828.8,447.6L839.1,447.6Z"/><ellipse cx="857.5" cy="449.6" rx="2.6" ry="6.9"/><path class="h" d="M796.9,473.6V467.1L795.6,465.4L797.1,464.1L795.8,462.0L797.3,460.7L796.4,458.6L798.6,455.4L800.7,458.6L799.9,460.7L801.4,462.0L800.1,464.1L801.6,465.4L800.3,467.1V473.6"/><path class="h" d="M812.3,473.6V467.1L811.0,465.4L812.5,464.1L811.2,462.0L812.7,460.7L811.9,458.6L814.0,455.4L816.1,458.6L815.3,460.7L816.8,462.0L815.5,464.1L817.0,465.4L815.7,467.1V473.6"/><path class="h" d="M829.4,473.6V467.1L828.1,465.4L829.6,464.1L828.4,462.0L829.9,460.7L829.0,458.6L831.1,455.4L833.3,458.6L832.4,460.7L833.9,462.0L832.6,464.1L834.1,465.4L832.9,467.1V473.6"/><path class="h" d="M846.1,473.6V467.1L844.9,465.4L846.4,464.1L845.1,462.0L846.6,460.7L845.7,458.6L847.9,455.4L850.0,458.6L849.1,460.7L850.6,462.0L849.4,464.1L850.9,465.4L849.6,467.1V473.6"/><path class="h" d="M862.6,473.6V467.1L861.4,465.4L862.9,464.1L861.6,462.0L863.1,460.7L862.2,458.6L864.4,455.4L866.5,458.6L865.6,460.7L867.1,462.0L865.9,464.1L867.4,465.4L866.1,467.1V473.6"/><path class="f" d="M910.0,409.9H884.3C876.8,409.9 872.5,414.6 872.5,422.1V467.1C872.5,471.4 870.4,473.6 867.1,473.6H792.1V477.9H871.4C876.8,477.9 878.3,474.6 878.3,469.3V424.3C878.3,417.9 881.1,415.3 886.4,415.3H910.0"/><use href="#bl" transform="translate(908.5,366.5) scale(.84,.84)"/>
</g>
<text class="l" x="858.1" y="382.7">鼓风机</text><text class="l" x="896.5" y="457.1">电解槽</text><text class="c" x="760" y="503.6">利用空气来搅动电解槽，使</text>
<text class="c" x="760" y="521.8">电解质流通，并把附着水泡</text>
<text class="c" x="760" y="540.0">驱开令电镀迅速，效果均匀。</text>
<text class="c" x="757" y="558.2" textLength="157.5" lengthAdjust="spacing">（出口孔以4mm为佳）</text>

<!-- 09_bottle.svg -->
<g class="d">
<path d="M52.1,702.7V690.3M56.4,702.7V690.3"/><path class="f" d="M52.1,690.9L50.1,690.1L49.7,688.4C48.2,685.1 44.8,683.2 43.3,680.6L40.3,671.4L52.1,666.1L57.0,678.1C58.3,681.7 57.2,684.9 56.6,687.7L57.9,688.4L57.4,689.6L56.4,690.9Z"/><path d="M52.9,675.7C52.5,672.3 49.5,671.4 43.5,672.7" marker-end="url(#ah)"/><path d="M76.7,702.7V690.3M81.0,702.7V690.3"/><path class="f" d="M76.7,690.9L74.8,690.1L74.4,688.4C72.9,685.1 69.4,683.2 67.9,680.6L64.9,671.4L76.7,666.1L81.6,678.1C82.9,681.7 81.9,684.9 81.2,687.7L82.5,688.4L82.1,689.6L81.0,690.9Z"/><path d="M77.6,675.7C77.1,672.3 74.1,671.4 68.1,672.7" marker-end="url(#ah)"/><path d="M98.6,702.7V690.3M102.9,702.7V690.3"/><path class="f" d="M98.6,690.9L96.6,690.1L96.2,688.4C94.7,685.1 91.3,683.2 89.8,680.6L86.8,671.4L98.6,666.1L103.5,678.1C104.8,681.7 103.7,684.9 103.1,687.7L104.4,688.4L103.9,689.6L102.9,690.9Z"/><path d="M99.4,675.7C99.0,672.3 96.0,671.4 90.0,672.7" marker-end="url(#ah)"/><path d="M131.8,702.7V690.3M136.1,702.7V690.3"/><path class="f" d="M131.8,690.9L129.9,690.1L129.4,688.4C127.9,685.1 124.5,683.2 123.0,680.6L120.0,671.4L131.8,666.1L136.7,678.1C138.0,681.7 136.9,684.9 136.3,687.7L137.6,688.4L137.1,689.6L136.1,690.9Z"/><path d="M132.6,675.7C132.2,672.3 129.2,671.4 123.2,672.7" marker-end="url(#ah)"/><path d="M154.7,702.7V690.3M159.0,702.7V690.3"/><path class="f" d="M154.7,690.9L152.8,690.1L152.4,688.4C150.9,685.1 147.4,683.2 145.9,680.6L142.9,671.4L154.7,666.1L159.6,678.1C160.9,681.7 159.9,684.9 159.2,687.7L160.5,688.4L160.1,689.6L159.0,690.9Z"/><path d="M155.6,675.7C155.1,672.3 152.1,671.4 146.1,672.7" marker-end="url(#ah)"/><path d="M40.7,702.7H171.4M40.7,708.9H115.7M120.6,708.9H171.4"/><path d="M115.7,708.9V756.5H153.2M120.6,708.9V750.3H153.2"/><path d="M50.4,705.9H42.9" marker-end="url(#as)"/><path d="M70.7,705.9H63.2" marker-end="url(#as)"/><path d="M92.1,705.9H84.6" marker-end="url(#as)"/><path d="M113.1,705.9H105.6" marker-end="url(#as)"/><path d="M121.1,705.9H128.6" marker-end="url(#as)"/><path d="M142.5,705.9H150.0" marker-end="url(#as)"/><path d="M162.9,705.9H170.4" marker-end="url(#as)"/><path d="M118.1,732.5L117.6,713.9" marker-end="url(#as)"/><path d="M143.6,753.5H129.0" marker-end="url(#as)"/><path d="M109.7,656.4L101.8,666.3" marker-end="url(#ah)"/><path d="M174.0,660.7L169.3,660.7L160.3,670.6" marker-end="url(#ah)"/><path d="M200.4,686.4V696.5" marker-end="url(#ah)"/><use href="#bl" x="150.5" y="700"/>
</g>
<text class="l" x="101.8" y="653.4">水珠</text><text class="l" x="174.6" y="660.3">空瓶</text><text class="l" x="175.7" y="685.4">鼓风机</text><text class="c" x="42.8" y="797.8">饮料空瓶水洗后将水滴吹</text>
<text class="c" x="42.8" y="816.6"><tspan fill="#c4161c">干</tspan>，适用于食品业。</text>

<!-- 10_punch.svg -->
<g class="d">
<path class="f" d="M277.3,707.4H284.1C294.2,707.4 294.2,725.8 302.0,725.8C309.9,725.8 312.6,708.3 321.1,708.3C330.1,708.3 331.2,725.8 339.1,725.8C346.9,725.8 348.1,708.3 355.9,708.3C364.9,708.3 366.0,725.8 373.9,725.8C381.7,725.8 381.7,707.4 390.7,707.4H403.7V685.0H277.3Z"/><path class="f" d="M277.3,731.4H287.4C297.6,731.4 297.6,750.1 302.0,750.1C309.9,750.1 312.6,732.1 321.1,732.1C330.1,732.1 331.2,750.1 339.1,750.1C346.9,750.1 348.1,732.1 355.9,732.1C364.9,732.1 366.0,750.1 373.9,750.1C381.7,750.1 378.4,731.4 387.3,731.4H403.7V776.3H277.3Z"/><path class="f" d="M278.5,722.0H287.4C297.6,722.0 297.6,740.4 302.0,740.4C309.9,740.4 312.6,723.6 321.1,723.6C330.1,723.6 331.2,740.4 339.1,740.4C346.9,740.4 348.1,723.6 355.9,723.6C364.9,723.6 366.0,740.4 373.9,740.4C381.7,740.4 381.7,722.0 390.7,722.0H401.5C403.3,722.0 403.3,724.0 401.5,724.0H390.7C381.7,724.0 380.6,742.4 373.9,742.4C366.0,742.4 364.9,725.6 355.9,725.6C348.1,725.6 346.9,742.4 339.1,742.4C331.2,742.4 330.1,725.6 321.1,725.6C313.3,725.6 309.9,742.4 302.0,742.4C295.3,742.4 295.3,724.0 287.4,724.0H278.5C276.7,724.0 276.7,722.0 278.5,722.0Z"/><path d="M302.0,750.1C302.0,752.8 300.9,752.8 300.9,756.1V767.3H422.1C430.0,767.3 432.9,761.7 432.9,752.8V732.6C432.9,726.9 435.6,724.2 440.6,724.2"/><path d="M302.0,750.1C302.7,753.2 306.5,753.9 306.5,760.6H336.8C336.8,753.9 338.6,752.8 339.1,750.1C339.5,752.8 341.3,753.9 341.3,760.6H372.3C372.3,753.9 373.4,752.8 373.9,750.1C374.3,752.8 376.1,753.9 376.1,760.6H419.9C425.5,760.6 427.1,757.2 427.1,751.6V731.4C427.1,722.4 432.2,718.6 440.6,718.6"/><path d="M449.1,676.4V688.8" marker-end="url(#ah)"/><path d="M408.7,701.1L400.1,718.6" marker-end="url(#ah)"/><use href="#bl" transform="translate(437.2,682.7) scale(.65,.735)"/>
</g>
<text class="l" x="424.5" y="669.6">鼓风机</text><text class="l" x="410.2" y="693.7">成</text><text class="l" x="410.2" y="711.6">形</text><text class="l" x="410.2" y="729.6">品</text>
<text class="c" x="286.3" y="809.6">便利取出冲压后之成形品。</text>

<!-- 11_car.svg -->
<g class="d">
<path class="f" d="M530.2,746.1C530.2,740.0 534.3,737.6 540.4,737.6H615.9C632.2,739.6 640.4,752.2 650.6,760.4C658.8,765.5 671.0,764.5 681.2,767.6C687.3,770.6 688.4,776.7 687.8,782.9L689.4,783.9V787.3H670.0C670.0,767.6 641.4,767.6 641.4,787.3L640.8,785.9H575.1C575.1,767.6 545.5,767.6 545.5,780.8H530.2Z"/><path class="h" d="M670.0,787.3C669.4,770.6 642.4,770.6 642.0,787.3M573.5,785.9C573.5,770.6 547.6,770.6 547.1,780.8"/><rect x="534.7" y="743.1" width="38.4" height="20.4" rx="6.5"/><rect x="578.2" y="744.1" width="24.5" height="36.7" rx="2.0"/><path d="M578.2,763.5H602.7"/><path d="M606.7,747.1C606.7,745.1 607.8,744.1 609.8,744.1H626.1C634.3,748.2 638.4,754.3 640.4,762.4V780.8H609.8C607.8,780.8 606.7,779.8 606.7,777.8ZM606.7,763.5H640.4"/><path class="f" d="M601.6,696.1H636.3C644.5,696.1 647.6,701.2 646.5,709.4L642.4,736.3L635.3,734.9L639.4,713.5C640.4,708.4 638.4,705.3 633.3,705.3H601.6Z"/><path class="f" d="M601.6,696.1H609.8C618.0,696.1 623.1,701.2 623.1,709.4V718.6L615.9,718.6C615.9,708.4 614.9,705.3 609.8,705.3H601.6Z"/><ellipse class="f" cx="614.9" cy="726.7" rx="10.6" ry="4.9" transform="rotate(-42 614.9 726.7)"/><path d="M607.8,732.2C603.7,738.0 597.6,739.6 589.4,739.0"/><path d="M630.2,734.3L642.0,737.1L631.2,794.5L618.0,791.4Z"/><path d="M626.5,750.2H612.2" marker-end="url(#as)"/><path d="M626.5,757.8H612.2" marker-end="url(#as)"/><path d="M626.5,769.2H612.2" marker-end="url(#as)"/><path d="M626.5,776.1H612.2" marker-end="url(#as)"/><path d="M640.4,754.3C634.3,746.1 626.1,741.0 615.5,740.6" marker-end="url(#as)"/><path d="M594.5,712.4L598.6,712.4L607.3,721.8" marker-end="url(#as)"/><path d="M627.8,660.4L621.0,660.4L605.3,675.3" marker-end="url(#ah)"/><use href="#bl" transform="translate(603.1,651.8) scale(-.85,.93)"/>
</g>
<text class="l" x="631.2" y="669.4">鼓风机</text><text class="c" x="541.7" y="809.8" style="font-size:14.9px">洗车机洗后之水分吹干。</text>

<!-- 12_incin.svg -->
<g class="d">
<clipPath id="hx1"><path d="M832.3,649.8H864.2V676.7H832.3Z"/></clipPath><path clip-path="url(#hx1)" d="M846.7,629.6L881.7,658.9M844.7,631.9L879.7,661.3M842.7,634.3L877.7,663.7M840.7,636.7L875.7,666.1M838.7,639.1L873.7,668.4M836.7,641.4L871.7,670.8M834.7,643.8L869.8,673.2M832.7,646.2L867.8,675.6M830.7,648.6L865.8,677.9M828.7,650.9L863.8,680.3M826.7,653.3L861.8,682.7M824.8,655.7L859.8,685.1M822.8,658.1L857.8,687.4M820.8,660.4L855.8,689.8M818.8,662.8L853.8,692.2M816.8,665.2L851.8,694.6M814.8,658.9L849.8,629.6M816.8,661.3L851.8,631.9M818.8,663.7L853.8,634.3M820.8,666.1L855.8,636.7M822.8,668.4L857.8,639.1M824.8,670.8L859.8,641.4M826.7,673.2L861.8,643.8M828.7,675.6L863.8,646.2M830.7,677.9L865.8,648.6M832.7,680.3L867.8,650.9M834.7,682.7L869.8,653.3M836.7,685.1L871.7,655.7M838.7,687.4L873.7,658.1M840.7,689.8L875.7,660.4M842.7,692.2L877.7,662.8M844.7,694.6L879.7,665.2" style="stroke:#1a1a1a;stroke-width:0.85;fill:none"/><path d="M832.3,649.8H864.2V676.7H832.3Z"/><rect class="f" x="838.6" y="676.4" width="21.0" height="38.6"/><rect class="f" x="809.7" y="715.0" width="77.8" height="71.8"/><rect x="830.7" y="745.4" width="31.7" height="40.7" rx="3.0"/><path d="M838.2,749.7H859.6V756.8H856.9C854.3,756.8 854.3,753.6 856.9,753.6M859.6,756.8V782.5H835.0V766.4C835.0,764.7 836.1,764.3 837.6,764.3M835.0,760.0V752.5C835.0,750.4 836.1,749.7 838.2,749.7M859.6,773.9H856.9C854.3,773.9 854.3,778.2 856.9,778.2H859.6"/><path d="M830.7,760.0H839.7C841.9,760.0 841.9,763.4 839.7,763.4H830.7"/><rect class="f" x="814.6" y="786.8" width="12.2" height="8.6"/><rect class="f" x="812.5" y="795.4" width="16.5" height="3.2"/><rect class="f" x="866.5" y="786.8" width="11.8" height="8.6"/><rect class="f" x="864.6" y="795.4" width="15.9" height="3.2"/><path d="M859.6,683.9L899.3,704.3C904.6,707.5 906.4,710.7 906.4,717.1V779.3C906.4,786.8 910.0,788.5 916.4,788.5H925.0M859.6,691.4L893.9,709.6C898.9,712.4 900.4,715.0 900.4,720.4V783.6C900.4,793.2 905.7,796.4 913.2,796.4H955.4V790.0"/><path d="M903.1,755.7V726.4" marker-end="url(#as)"/><path d="M945.4,708.1L912.8,721.2" marker-end="url(#ah)"/><path d="M937.9,746.1V758.3" marker-end="url(#ah)"/><path d="M799.6,728.3H841.9" marker-end="url(#ah)"/><use href="#bl" transform="translate(922.7,747.9) scale(.65,.69)"/>
</g>
<text class="l" x="925.0" y="705.1">空气</text><text class="l" x="913.2" y="745.0">鼓风机</text><text class="l" x="766.4" y="733.0">风刀</text><text class="c" x="777.2" y="825.3">空气的助燃与废气之排出。</text>

<!-- 13_docs.svg -->
<g class="d">
<path d="M40.3,963.6H173.1"/><path class="f" d="M90.4,963.6V949.7C90.4,947.1 91.7,946.1 94.3,946.1H104.6C107.1,946.1 108.2,947.1 108.2,949.7V963.6"/><path class="f" d="M134.6,963.6V949.7C134.6,947.1 135.9,946.1 138.4,946.1H148.9C151.5,946.1 152.6,947.1 152.6,949.7V963.6"/><rect class="f" x="157.9" y="935.4" width="15.2" height="28.3"/><path class="f" d="M105.0,923.9C108.1,922.3 106.7,915.7 103.0,915.0C99.4,914.7 97.9,918.8 99.9,922.3C100.9,923.9 100.9,924.9 100.2,925.9C97.9,929.5 98.2,935.6 99.6,943.8L100.4,945.8L107.6,945.8C110.6,946.8 112.7,949.9 110.6,953.0L110.6,960.6C111.6,962.1 114.2,962.1 115.2,963.4L109.6,963.4L109.1,953.0C107.6,949.9 108.6,947.9 107.6,945.8M100.2,925.9C101.9,924.9 104.0,924.9 105.0,923.9Z"/><path class="k" d="M103.0,915.0C106.7,915.7 108.1,922.3 105.0,923.9C104.0,922.3 105.5,920.3 104.5,918.3C105.0,916.7 104.0,915.7 103.0,915.0ZM104.0,926.9C105.5,928.5 107.0,935.6 108.1,938.7C109.6,939.7 110.6,941.2 110.6,943.0C108.6,942.2 106.5,941.7 106.0,940.2C105.0,935.6 103.0,931.5 104.0,926.9Z"/><path d="M105.0,923.9C108.6,928.5 107.6,935.6 110.6,943.0C112.7,944.3 114.7,947.9 114.2,949.9C113.7,952.4 111.6,953.0 110.6,953.0"/><path class="f" d="M138.7,925.4C137.1,928.5 135.6,931.0 133.1,931.7L130.0,930.3C128.0,931.0 124.9,931.3 122.3,932.8C122.9,934.1 125.9,934.1 128.0,934.6C130.0,935.6 133.1,935.4 135.6,934.1C137.1,936.6 138.7,939.7 138.2,941.7C134.1,942.2 130.5,945.3 130.0,949.9C129.8,951.9 131.0,953.0 131.5,954.0L130.5,962.1L128.5,963.4L135.1,963.4L135.6,954.0C137.1,949.9 139.2,946.8 142.2,945.8C144.3,944.8 144.8,940.7 144.3,935.6C144.5,931.5 144.8,927.4 143.3,925.4Z"/><path d="M133.1,954.0L132.6,963.2"/><path class="k" d="M135.9,912.7C137.1,911.1 139.7,912.7 140.2,913.7C143.3,913.2 146.3,916.2 145.8,920.3C145.3,923.4 143.8,924.9 142.2,925.4C141.2,924.4 141.2,922.3 140.2,921.3C139.7,922.9 140.2,924.9 139.2,925.9C138.2,924.4 138.7,922.3 138.2,920.3C137.1,918.3 138.2,916.2 137.1,915.2C136.1,914.7 135.6,913.7 135.9,912.7Z"/><path d="M138.7,925.4C139.7,926.2 141.7,926.2 143.3,925.4"/><path d="M40.3,1047.4H86.1M137.6,1047.4H172.5M208.9,1047.4H172.5"/><path class="f" d="M68.4,1028.1C67.9,1022.1 70.5,1020.4 74.4,1019.1L76.9,1022.1L79.5,1019.1C83.4,1020.4 85.9,1022.1 85.5,1028.1Z"/><path class="h" d="M71.6,1028.1C70.9,1025.4 71.6,1023.2 72.2,1021.7M82.3,1028.1C82.9,1025.4 82.3,1023.2 81.6,1021.7"/><circle class="f" cx="76.9" cy="1012.5" r="4.1"/><path class="f" d="M72.2,1008.2C70.9,1005.0 71.6,1002.9 74.8,1002.9C76.9,1001.1 80.1,1001.6 81.6,1003.3C83.4,1004.6 82.3,1007.1 81.6,1008.2Z"/><path d="M72.2,1008.2C74.8,1009.3 79.1,1009.3 81.6,1008.2"/><circle class="k" cx="75.4" cy="1011.9" r="0.5"/><circle class="k" cx="78.4" cy="1011.9" r="0.5"/><path class="h" d="M75.9,1014.6H78.0"/><path class="f" d="M154.7,1028.1C154.3,1022.1 156.9,1020.4 160.7,1019.1L163.3,1022.1L165.9,1019.1C169.7,1020.4 172.3,1022.1 171.9,1028.1Z"/><path class="h" d="M157.9,1028.1C157.3,1025.4 157.9,1023.2 158.6,1021.7M168.6,1028.1C169.3,1025.4 168.6,1023.2 168.0,1021.7"/><circle class="f" cx="163.3" cy="1012.5" r="4.1"/><path class="f" d="M158.6,1008.2C157.3,1005.0 157.9,1002.9 161.1,1002.9C163.3,1001.1 166.5,1001.6 168.0,1003.3C169.7,1004.6 168.6,1007.1 168.0,1008.2Z"/><path d="M158.6,1008.2C161.1,1009.3 165.4,1009.3 168.0,1008.2"/><circle class="k" cx="161.8" cy="1011.9" r="0.5"/><circle class="k" cx="164.8" cy="1011.9" r="0.5"/><path class="h" d="M162.2,1014.6H164.4"/><rect class="f" x="63.2" y="1028.1" width="22.9" height="19.3"/><rect class="f" x="150.4" y="1028.1" width="22.1" height="19.3"/><path d="M86.1,1055.4C86.1,1069.3 91.1,1074.0 98.6,1074.0H125.4C132.9,1074.0 137.6,1069.3 137.6,1055.4M86.8,1059.6C87.4,1066.1 91.1,1068.4 96.4,1068.4H127.5C133.3,1068.4 136.7,1066.1 137.1,1059.6"/><path class="f" d="M86.1,1027.5C86.1,1023.2 91.7,1023.2 91.7,1027.5V1053.2C91.7,1057.1 93.4,1058.4 96.9,1058.4H127.5C131.1,1058.4 133.1,1057.1 133.1,1053.2V1027.5C133.1,1023.2 137.6,1023.2 137.6,1027.5V1055.4C137.6,1061.8 135.0,1063.9 128.6,1063.9H95.4C88.9,1063.9 86.1,1061.8 86.1,1055.4Z"/><rect class="k" x="111.9" y="1059.2" width="9.2" height="3.4"/><path d="M110.1,1060.9H94.3" marker-end="url(#as)"/><path d="M106.1,1070.8H120.6" marker-end="url(#as)"/><path class="f" d="M173.1,934.3C173.1,930.4 177.9,930.4 177.9,934.3V982.5C177.9,987.4 180.0,988.9 185.4,988.9H212.1C219.6,988.9 221.8,992.1 221.8,998.6V1066.1C221.8,1072.5 218.6,1074.6 212.1,1074.6H183.2C175.7,1074.6 172.5,1071.4 172.5,1065.0V1027.5C172.5,1023.2 177.2,1023.2 177.2,1027.5V1054.3C177.9,1059.0 180.0,1060.3 184.3,1060.3H202.7C207.0,1060.3 208.9,1059.0 208.9,1054.7V1008.2C208.9,1002.9 206.8,1000.7 201.4,1000.7H185.4C177.9,1000.7 173.1,997.5 173.1,987.9Z"/><path d="M177.9,991.1C180.0,993.9 182.1,994.3 184.3,994.3H208.9C214.7,994.3 216.4,996.9 216.4,1002.4V1061.8C216.4,1066.7 214.3,1068.2 209.6,1068.2H184.3C179.6,1068.2 177.2,1066.1 177.2,1060.7"/><rect class="k" x="191.1" y="989.8" width="10.7" height="3.6"/><path d="M210.4,1028.6V1014.2" marker-end="url(#as)"/><path d="M219.0,1020.0V1039.7" marker-end="url(#as)"/><use href="#bls" transform="translate(92,1015) scale(.5,.52)"/><use href="#bls" transform="translate(175,1015) scale(.53,.52)"/>
</g>
<text class="l" x="41.8" y="925.7">诊察</text><text class="l" x="38.8" y="983.6">出纳</text><text class="l" x="119.6" y="984.9">药局</text><text class="l" x="94.9" y="1010.1">鼓风机</text><text class="c" x="37.8" y="1088.8" style="font-size:15px">以空气为动力输送文件</text>
<text class="c" x="60.5" y="1107.8" style="font-size:15px">既快速又确实。</text>

<!-- 14_powder.svg -->
<g class="d">
<path d="M316.4,924.6V979.3L354.6,1002.9L365.7,1024.3M412.4,924.6V979.3L373.2,1003.9L381.8,1022.6M368.3,1029.6L379.0,1052.1M383.9,1029.6L390.4,1041.4H467.5"/><path d="M277.9,1046.4H376.4M277.9,1053.9H467.5M277.9,1046.4V1053.9M302.5,1046.4V1053.9"/><rect class="f" x="366.8" y="1022.6" width="24.6" height="4.9" rx="2.4"/><path d="M331.4,1050.0H349.4" marker-end="url(#as)"/><path d="M430.0,1049.6H456.1" marker-end="url(#as)"/><path d="M397.9,1063.9V1055.4" marker-end="url(#as)"/><path d="M296.7,1000.7V1016.1" marker-end="url(#as)"/><path d="M422.5,999.0L393.1,1021.5" marker-end="url(#ah)"/><g class="k"><circle cx="348.4" cy="974.8" r="1.45"/><circle cx="379.6" cy="967.7" r="1.45"/><circle cx="368.6" cy="994.4" r="1.45"/><circle cx="329.3" cy="981.4" r="1.45"/><circle cx="331.3" cy="971.8" r="1.45"/><circle cx="378.4" cy="995.0" r="1.45"/><circle cx="369.7" cy="966.8" r="1.45"/><circle cx="323.2" cy="979.8" r="1.45"/><circle cx="360.7" cy="988.4" r="1.45"/><circle cx="387.1" cy="987.3" r="1.45"/><circle cx="397.6" cy="1047.1" r="1.45"/><circle cx="395.9" cy="987.0" r="1.45"/><circle cx="373.7" cy="985.0" r="1.45"/><circle cx="366.7" cy="1017.3" r="1.45"/><circle cx="354.9" cy="997.4" r="1.45"/><circle cx="337.4" cy="975.9" r="1.45"/><circle cx="349.9" cy="965.9" r="1.45"/><circle cx="376.1" cy="974.6" r="1.45"/><circle cx="341.6" cy="992.7" r="1.45"/><circle cx="352.2" cy="972.3" r="1.45"/><circle cx="398.5" cy="1051.5" r="1.45"/><circle cx="361.9" cy="1005.1" r="1.45"/><circle cx="325.7" cy="970.4" r="1.45"/><circle cx="350.2" cy="985.2" r="1.45"/><circle cx="396.5" cy="975.8" r="1.45"/><circle cx="367.9" cy="974.4" r="1.45"/><circle cx="406.9" cy="1051.1" r="1.45"/><circle cx="377.0" cy="1043.1" r="1.45"/><circle cx="379.8" cy="1033.9" r="1.45"/><circle cx="386.6" cy="976.6" r="1.45"/><circle cx="365.3" cy="1009.5" r="1.45"/><circle cx="367.4" cy="962.8" r="1.45"/><circle cx="359.5" cy="977.7" r="1.45"/><circle cx="341.2" cy="986.3" r="1.45"/><circle cx="360.6" cy="1009.6" r="1.45"/><circle cx="384.2" cy="1040.9" r="1.45"/><circle cx="392.3" cy="1042.8" r="1.45"/><circle cx="380.5" cy="974.1" r="1.45"/><circle cx="401.7" cy="1049.2" r="1.45"/><circle cx="370.3" cy="1001.2" r="1.45"/><circle cx="392.7" cy="1049.6" r="1.45"/><circle cx="343.3" cy="972.9" r="1.45"/><circle cx="367.7" cy="982.8" r="1.45"/><circle cx="327.9" cy="975.8" r="1.45"/><circle cx="383.1" cy="1050.5" r="1.45"/><circle cx="373.3" cy="1009.3" r="1.45"/><circle cx="354.6" cy="990.8" r="1.45"/><circle cx="370.8" cy="1018.2" r="1.45"/><circle cx="388.0" cy="1049.9" r="1.45"/><circle cx="362.0" cy="971.9" r="1.45"/><circle cx="402.7" cy="979.2" r="1.45"/><circle cx="410.8" cy="1046.3" r="1.45"/><circle cx="343.7" cy="965.5" r="1.45"/><circle cx="380.1" cy="988.5" r="1.45"/><circle cx="335.8" cy="969.3" r="1.45"/><circle cx="381.1" cy="1045.3" r="1.45"/><circle cx="348.0" cy="994.0" r="1.45"/><circle cx="392.1" cy="968.3" r="1.45"/><circle cx="363.5" cy="965.9" r="1.45"/><circle cx="392.4" cy="981.3" r="1.45"/><circle cx="397.4" cy="971.8" r="1.45"/><circle cx="373.4" cy="1021.5" r="1.45"/><circle cx="320.7" cy="974.7" r="1.45"/><circle cx="344.6" cy="980.6" r="1.45"/><circle cx="384.0" cy="1032.7" r="1.45"/><circle cx="354.5" cy="964.2" r="1.45"/><circle cx="375.5" cy="1032.2" r="1.45"/><circle cx="378.2" cy="1019.0" r="1.45"/><circle cx="366.2" cy="1005.2" r="1.45"/><circle cx="356.8" cy="970.4" r="1.45"/><circle cx="379.0" cy="980.4" r="1.45"/><circle cx="387.1" cy="968.7" r="1.45"/><circle cx="362.9" cy="1014.7" r="1.45"/><circle cx="392.6" cy="975.3" r="1.45"/><circle cx="403.6" cy="1043.5" r="1.45"/><circle cx="338.6" cy="966.2" r="1.45"/><circle cx="372.0" cy="973.6" r="1.45"/><circle cx="370.6" cy="1005.8" r="1.45"/><circle cx="376.3" cy="1038.5" r="1.45"/><circle cx="335.1" cy="988.8" r="1.45"/><circle cx="408.9" cy="979.7" r="1.45"/><circle cx="373.6" cy="968.4" r="1.45"/><circle cx="361.7" cy="962.3" r="1.45"/><circle cx="387.8" cy="1045.0" r="1.45"/><circle cx="369.4" cy="1011.1" r="1.45"/><circle cx="396.4" cy="1042.5" r="1.45"/><circle cx="400.6" cy="974.3" r="1.45"/><circle cx="408.4" cy="1042.3" r="1.45"/><circle cx="359.4" cy="967.2" r="1.45"/><circle cx="362.4" cy="997.5" r="1.45"/><circle cx="373.4" cy="1013.4" r="1.45"/><circle cx="375.8" cy="964.1" r="1.45"/><circle cx="388.6" cy="1040.8" r="1.45"/><circle cx="341.6" cy="968.9" r="1.45"/><circle cx="383.2" cy="970.9" r="1.45"/><circle cx="411.9" cy="1052.0" r="1.45"/><circle cx="346.9" cy="970.7" r="1.45"/><circle cx="366.6" cy="970.6" r="1.45"/><circle cx="384.8" cy="994.0" r="1.45"/><circle cx="368.1" cy="1021.8" r="1.45"/><circle cx="405.7" cy="975.6" r="1.45"/><circle cx="356.7" cy="983.6" r="1.45"/><circle cx="384.5" cy="1036.8" r="1.45"/><circle cx="333.4" cy="976.7" r="1.45"/><circle cx="406.1" cy="1047.0" r="1.45"/><circle cx="371.9" cy="963.2" r="1.45"/><circle cx="412.8" cy="1042.6" r="1.45"/><circle cx="389.1" cy="972.9" r="1.45"/><circle cx="383.4" cy="966.3" r="1.45"/><circle cx="353.3" cy="968.3" r="1.45"/><circle cx="380.5" cy="1038.6" r="1.45"/></g><use href="#bl" transform="translate(310,1006.8) scale(-.6,.655)"/>
</g>
<text class="l" x="334.0" y="944.1">粉粒体</text><text class="l" x="276.1" y="998.8">鼓风机</text><text class="l" x="417.1" y="995.6">控制阀</text><text class="l" x="289.6" y="1068.9">压缩空气</text><text class="l" x="409.6" y="1070.1">喷射头</text><text class="c" x="302.5" y="1086.6">粉体粒体等之原料的</text>
<text class="c" x="302.5" y="1105.2">空气传送。</text>

<!-- 15_ribbon.svg -->
<g class="d">
<path class="f" d="M582.1,943.9L555.4,927.9C552.1,926.1 548.3,928.9 548.9,933.2C549.4,936.4 552.1,938.1 554.3,939.0L563.9,944.6"/><path d="M616.4,909.6L563.9,948.9L538.9,966.9C537.1,968.1 537.1,969.4 539.3,970.7L568.9,988.3C570.6,989.4 571.9,989.1 573.6,988.3L664.6,940.7L663.1,939.2L571.0,986.6L566.1,984.0"/><path class="h" d="M538.9,966.9L571.0,986.6"/><path d="M580.0,943.9L615.4,964.9M575.3,953.6L602.5,970.7" stroke-dasharray="9 2.5"/><path class="f" d="M617.0,968.4 L639.5,979.5 A3.1,6.2 26.3 0 1 634.0,990.6 L611.5,979.5 A3.1,6.2 26.3 0 1 617.0,968.4Z"/><ellipse class="f" cx="636.8" cy="985.1" rx="3.1" ry="6.2" transform="rotate(26.3 636.8 985.1)"/><path d="M573.6,940.3C566.1,943.9 561.8,946.1 561.8,951.4V962.1M584.3,942.9C574.6,947.6 570.4,948.9 570.4,953.6V961.1"/><path d="M602.5,973.9V989.6M622.4,964.3C614.3,968.6 611.1,970.7 611.1,975.4V988.3"/><path class="f" d="M585.4,936.9V915.0C585.4,910.3 590.7,910.3 590.7,915.0V934.3"/><path class="f" d="M619.6,959.6V935.4C619.6,930.6 625.0,930.6 625.0,935.4V956.1"/><ellipse cx="565.4" cy="964.3" rx="9.9" ry="5.6"/><ellipse cx="565.4" cy="964.7" rx="7.1" ry="3.6"/><ellipse cx="606.4" cy="989.6" rx="9.9" ry="5.8"/><ellipse cx="606.4" cy="990.0" rx="7.5" ry="4.1"/><path d="M565.6,952.5V965.6" marker-end="url(#as)"/><path d="M605.7,978.9V991.3" marker-end="url(#as)"/><path d="M574.9,966.9C572.5,975.0 568.2,980.4 565.6,984.0"/><path d="M555.6,965.4C552.1,975.0 545.7,981.4 538.9,984.0" marker-end="url(#as)"/><path d="M528.6,976.5C534.8,979.5 544.4,978.4 551.9,972.2"/><path d="M595.2,990.4C590.3,1003.5 578.1,1011.0 564.1,1010.1M614.3,994.3C610.0,1007.1 598.4,1017.4 588.6,1022.4C584.3,1023.9 580.0,1024.3 575.7,1024.1"/><path d="M538.4,985.7L581.3,1011.4M538.4,985.7C536.7,987.9 536.7,992.1 539.3,994.5"/><path d="M538.0,994.1L563.3,1009.3L571.4,1013.4M538.9,993.4L563.9,1008.4"/><path d="M528.6,989.4L560.9,1011.0M528.1,1005.6L559.2,1024.1C560.7,1024.7 562.0,1024.7 562.6,1024.1L605.1,1044.4L614.3,1051.1H626.5"/><path d="M562.6,1024.1C560.7,1022.1 561.1,1018.9 563.3,1017.4L585.4,1029.0"/><path d="M581.3,1026.4C583.9,1029.0 588.6,1029.0 589.4,1024.1"/><path d="M589.6,1016.8C601.4,1020.0 605.7,1032.9 614.3,1041.9L626.5,1044.0"/><path d="M551.1,997.5L532.0,983.8" marker-end="url(#as)"/><path d="M551.5,1012.1L531.1,999.0" marker-end="url(#as)"/><path d="M588.6,1011.4C582.1,1014.6 573.6,1015.7 565.9,1015.5" marker-end="url(#as)"/><path d="M596.1,1036.3C588.6,1033.9 581.1,1030.7 574.9,1026.4" marker-end="url(#as)"/><path d="M603.4,1032.9C600.4,1028.6 596.1,1025.4 592.0,1024.1" marker-end="url(#as)"/><path d="M615.4,1045.7L600.1,1036.3" marker-end="url(#as)"/><path d="M640.0,930.0L625.0,943.1" marker-end="url(#ah)"/><path d="M654.6,968.1L650.3,968.1L641.1,978.4" marker-end="url(#ah)"/><path d="M665.7,987.9L658.9,987.9L648.6,1007.4" marker-end="url(#ah)"/><use href="#bl" transform="translate(623.2,992.8) scale(1,1.04)"/>
</g>
<text class="l" x="630.4" y="928.1">切刀</text><text class="l" x="652.9" y="965.6">滚轮</text><text class="l" x="665.7" y="989.1">鼓风机</text><text class="c" x="536" y="1073.4">塑胶、布、纸等裁边后废</text>
<text class="c" x="536" y="1091.4">屑自动收集。</text>

<!-- 16_pool.svg -->
<rect x="978" y="1000" width="2" height="169" fill="#e4e4e4"/>
<g class="d">
<rect class="f" x="762.2" y="970.5" width="22.5" height="6.6"/><path d="M784.7,970.5H950.0M784.7,977.0H850.9M855.6,977.0H886.1M890.8,977.0H921.3M926.5,977.0H954.7M762.2,980.3H954.7"/><path d="M826.3,980.3V1037.3H946.7"/><path class="h" d="M766.4,980.6L762.7,988.1M771.4,980.6L767.6,988.1M776.3,980.6L772.5,988.1M781.2,980.6L777.5,988.1M786.1,980.6L782.4,988.1M791.1,980.6L787.3,988.1M796.0,980.6L792.2,988.1M800.9,980.6L797.2,988.1M805.9,980.6L802.1,988.1M810.8,980.6L807.0,988.1M815.7,980.6L812.0,988.1M820.6,980.6L816.9,988.1M825.6,980.6L821.8,988.1M826.3,984.5L819.9,991.1M826.3,989.5L819.9,996.0M826.3,994.4L819.9,1001.0M826.3,999.3L819.9,1005.9M826.3,1004.3L819.9,1010.8M826.3,1009.2L819.9,1015.8M826.3,1014.1L819.9,1020.7M826.3,1019.0L819.9,1025.6M826.3,1024.0L819.9,1030.5M826.3,1028.9L819.9,1035.5M826.3,1033.8L819.9,1040.4M827.4,1037.6L822.3,1046.7M832.4,1037.6L827.2,1046.7M837.3,1037.6L832.1,1046.7M842.2,1037.6L837.1,1046.7M847.2,1037.6L842.0,1046.7M852.1,1037.6L846.9,1046.7M857.0,1037.6L851.9,1046.7M861.9,1037.6L856.8,1046.7M866.9,1037.6L861.7,1046.7M871.8,1037.6L866.6,1046.7M876.7,1037.6L871.6,1046.7M881.7,1037.6L876.5,1046.7M886.6,1037.6L881.4,1046.7M891.5,1037.6L886.4,1046.7M896.4,1037.6L891.3,1046.7M901.4,1037.6L896.2,1046.7M906.3,1037.6L901.1,1046.7M911.2,1037.6L906.1,1046.7M916.2,1037.6L911.0,1046.7M921.1,1037.6L915.9,1046.7M926.0,1037.6L920.9,1046.7M930.9,1037.6L925.8,1046.7M935.9,1037.6L930.7,1046.7M940.8,1037.6L935.6,1046.7M945.7,1037.6L940.6,1046.7"/><path d="M850.9,977.0V1016.7M855.6,977.0V1016.7"/><path d="M886.1,977.0V1016.7M890.8,977.0V1016.7"/><path d="M921.3,977.0V1016.7M926.5,977.0V1016.7"/><rect class="f" x="844.3" y="1016.7" width="17.8" height="8.9"/><rect class="f" x="878.6" y="1016.7" width="17.8" height="8.9"/><rect class="f" x="914.8" y="1016.7" width="17.8" height="8.9"/><path class="h" d="M826.3,998.6Q828.6,997.4 831.0,998.6Q833.3,999.8 835.7,998.6Q838.0,997.4 840.4,998.6Q842.7,999.8 845.1,998.6Q847.4,997.4 849.7,998.6Q852.1,999.8 854.4,998.6Q856.8,997.4 859.1,998.6Q861.5,999.8 863.8,998.6Q866.2,997.4 868.5,998.6Q870.9,999.8 873.2,998.6Q875.6,997.4 877.9,998.6Q880.3,999.8 882.6,998.6Q884.9,997.4 887.3,998.6Q889.6,999.8 892.0,998.6Q894.3,997.4 896.7,998.6Q899.0,999.8 901.4,998.6Q903.7,997.4 906.1,998.6Q908.4,999.8 910.8,998.6Q913.1,997.4 915.5,998.6Q917.8,999.8 920.2,998.6Q922.5,997.4 924.8,998.6Q927.2,999.8 929.5,998.6Q931.9,997.4 934.2,998.6Q936.6,999.8 938.9,998.6Q941.3,997.4 943.6,998.6Q946.0,999.8 948.3,998.6Q950.7,997.4 953.0,998.6Q955.4,999.8 957.7,998.6"/><path d="M858.7,983.4V996.7" marker-end="url(#as)"/><path d="M894.3,983.4V996.7" marker-end="url(#as)"/><path d="M929.5,983.4V996.7" marker-end="url(#as)"/><path d="M800.5,974.4H821.6" marker-end="url(#as)"/><path d="M858.0,974.4H877.9" marker-end="url(#as)"/><path d="M896.7,974.4H913.1" marker-end="url(#as)"/><path d="M937.8,974.4H955.8" marker-end="url(#as)"/><path d="M814.5,959.9H789.9" marker-end="url(#as)"/><path d="M802.8,1022.1H843.4" marker-end="url(#as)"/><g class="k"><circle cx="844.4" cy="1009.2" r="1.35"/><circle cx="847.1" cy="1003.0" r="1.35"/><circle cx="842.8" cy="1013.0" r="1.35"/><circle cx="849.7" cy="1008.2" r="1.35"/><circle cx="847.2" cy="1013.3" r="1.35"/><circle cx="861.2" cy="1010.8" r="1.35"/><circle cx="862.2" cy="1002.9" r="1.35"/><circle cx="858.4" cy="1004.7" r="1.35"/><circle cx="864.3" cy="1007.3" r="1.35"/><circle cx="856.2" cy="1029.9" r="1.35"/><circle cx="852.3" cy="1032.2" r="1.35"/><circle cx="855.6" cy="1034.7" r="1.35"/><circle cx="860.1" cy="1032.0" r="1.35"/><circle cx="851.4" cy="1028.0" r="1.35"/><circle cx="883.9" cy="1014.9" r="1.35"/><circle cx="878.5" cy="1012.5" r="1.35"/><circle cx="880.8" cy="1004.1" r="1.35"/><circle cx="884.2" cy="1007.0" r="1.35"/><circle cx="879.7" cy="1008.0" r="1.35"/><circle cx="896.9" cy="1005.9" r="1.35"/><circle cx="896.7" cy="1010.8" r="1.35"/><circle cx="892.7" cy="1013.2" r="1.35"/><circle cx="898.5" cy="1002.2" r="1.35"/><circle cx="891.5" cy="1034.4" r="1.35"/><circle cx="883.3" cy="1029.7" r="1.35"/><circle cx="888.6" cy="1031.3" r="1.35"/><circle cx="893.5" cy="1027.5" r="1.35"/><circle cx="896.3" cy="1034.3" r="1.35"/><circle cx="914.0" cy="1008.6" r="1.35"/><circle cx="918.4" cy="1007.1" r="1.35"/><circle cx="913.9" cy="1004.4" r="1.35"/><circle cx="917.1" cy="1011.1" r="1.35"/><circle cx="918.8" cy="1002.7" r="1.35"/><circle cx="928.8" cy="1003.3" r="1.35"/><circle cx="934.3" cy="1004.2" r="1.35"/><circle cx="928.3" cy="1012.0" r="1.35"/><circle cx="932.9" cy="1012.0" r="1.35"/><circle cx="931.5" cy="1032.1" r="1.35"/><circle cx="929.3" cy="1027.8" r="1.35"/><circle cx="928.6" cy="1034.9" r="1.35"/><circle cx="918.9" cy="1030.1" r="1.35"/><circle cx="923.2" cy="1030.7" r="1.35"/></g><use href="#bls" transform="translate(783.6,943.3) scale(-.4,.445)"/>
</g>
<text class="l" x="782.4" y="945.3">鼓风机</text><text class="l" x="770.7" y="1025.6">氧气</text><text class="l" x="939.6" y="1018.1">池</text><text class="c" x="787" y="1082.4">水中之氧气补给用。</text>

</svg></body></html>
